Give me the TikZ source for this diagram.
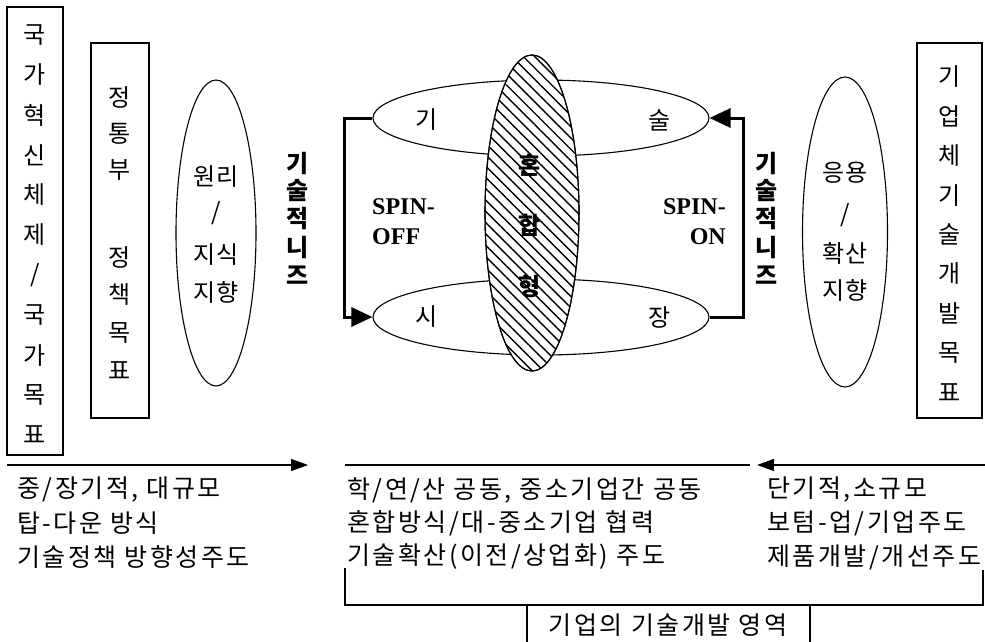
\documentclass[tikz,border=0pt]{standalone}
\usepackage{fontspec}
\setmainfont{Noto Sans CJK KR}[LetterSpace=10]
\newfontfamily\krtight{Noto Sans CJK KR}
\newfontfamily\latinb{Liberation Serif}
\usetikzlibrary{shapes.geometric,patterns.meta,arrows.meta}
\begin{document}
\begin{tikzpicture}[x=1pt,y=-1pt,
  ch/.style={inner sep=0, font=\krtight\fontsize{24}{24}\selectfont},
  chb/.style={inner sep=0, font=\krtight\fontsize{24}{24}\selectfont\bfseries},
  spin/.style={inner sep=0, font=\fontsize{24}{24}\selectfont\latinb\bfseries},
  txt/.style={inner sep=0, anchor=west, font=\fontsize{25}{25}\selectfont},
  vbox/.style={draw, line width=1.5pt, inner sep=0},
  oval/.style={draw, ellipse, line width=1.1pt, inner sep=0},
  loop/.style={line width=3pt, -{Triangle[length=21pt,width=19pt]}},
  flow/.style={line width=1.3pt, -{Triangle[length=17pt,width=12pt]}},
  plain/.style={line width=1.3pt}]
\useasboundingbox (0,0) rectangle (985,642);
\fill[white] (0,0) rectangle (985,642);

% left box 1
\node[vbox, minimum width=56pt, minimum height=448pt] (box1) at (35,231) {};
\foreach \c [count=\i from 0] in {국,가,혁,신,체,제,/,국,가,목,표}
  \node[ch] (b1c\i) at (35,35+40*\i) {\c};

% left box 2
\node[vbox, minimum width=58pt, minimum height=375pt] (box2) at (120,230.5) {};
\foreach \c/\y [count=\i] in {정/97,통/134,부/170,정/257,책/295,목/333,표/371}
  \node[ch] (b2c\i) at (120,\y) {\c};

% left oval
\node[oval, minimum width=80pt, minimum height=306pt] (ovl) at (216,233) {};
\node[ch] (ovl1) at (216,177) {원리};
\node[ch] (ovl2) at (216,213) {/};
\node[ch] (ovl3) at (216,255) {지식};
\node[ch] (ovl4) at (216,292) {지향};

% left 기술적니즈
\foreach \c [count=\i from 0] in {기,술,적,니,즈}
  \node[chb] (nl\i) at (298,163+28*\i) {\c};

% central ellipses
\node[oval, minimum width=336pt, minimum height=76pt] (tech) at (541,118) {};
\node[oval, minimum width=336pt, minimum height=76pt] (mkt) at (541,317) {};
\node[oval, minimum width=94pt, minimum height=316pt, fill=white,
      postaction={pattern={Lines[angle=-45,distance=8pt,line width=1.4pt]}}] (mix) at (532,213) {};
\draw[line width=1.1pt] (mix.center) ellipse [x radius=47pt, y radius=158pt];

\node[ch] (t1) at (427,120) {기};
\node[ch] (t2) at (660,120) {술};
\node[ch] (m1) at (427,317) {시};
\node[ch] (m2) at (660,317) {장};
\node[chb] (x1) at (530,165) {혼};
\node[chb] (x2) at (530,225) {합};
\node[chb] (x3) at (530,286) {형};

\node[spin, anchor=west] (so1) at (372,207) {SPIN-};
\node[spin, anchor=west] (so2) at (372,237) {OFF};
\node[spin, anchor=east] (sn1) at (726,207) {SPIN-};
\node[spin, anchor=east] (sn2) at (726,237) {ON};

\draw[loop] (tech.west) -- ++(-28,0) |- (mkt.west);
\draw[loop] (mkt.east) -- ++(34,0) |- (tech.east);

% right 기술적니즈
\foreach \c [count=\i from 0] in {기,술,적,니,즈}
  \node[chb] (nr\i) at (767,163+28*\i) {\c};

% right oval
\node[oval, minimum width=85pt, minimum height=310pt] (ovr) at (845,232) {};
\node[ch] (ovr1) at (845,173) {응용};
\node[ch] (ovr2) at (845,215) {/};
\node[ch] (ovr3) at (845,253) {확산};
\node[ch] (ovr4) at (845,290) {지향};

% right box
\node[vbox, minimum width=65pt, minimum height=375pt] (box3) at (949.5,230.5) {};
\foreach \c [count=\i from 0] in {기,업,체,기,술,개,발,목,표}
  \node[ch] (b3c\i) at (949.5,77+39.4*\i) {\c};

% bottom flows
\coordinate (fl1) at (7,465);
\coordinate (fl2) at (308,465);
\coordinate (fm1) at (345,465);
\coordinate (fm2) at (750,465);
\coordinate (fr1) at (985,465);
\coordinate (fr2) at (757,465);
\draw[flow] (fl1) -- (fl2);
\draw[plain] (fm1) -- (fm2);
\draw[flow] (fr1) -- (fr2);

\node[txt] (lt1) at (17,490) {중/장기적, 대규모};
\node[txt] (lt2) at (17,523) {탑-다운 방식};
\node[txt] (lt3) at (17,557) {기술정책 방향성주도};
\node[txt] (mt1) at (347,490) {학/연/산 공동, 중소기업간 공동};
\node[txt] (mt2) at (347,523) {혼합방식/대-중소기업 협력};
\node[txt] (mt3) at (347,557) {기술확산(이전/상업화) 주도};
\node[txt] (rt1) at (767,490) {단기적,소규모};
\node[txt] (rt2) at (767,523) {보텀-업/기업주도};
\node[txt] (rt3) at (767,557) {제품개발/개선주도};

% bracket
\coordinate (br1) at (345,568);
\coordinate (br2) at (983,570);
\draw[plain] (br1) |- (983,605) -- (br2);
\coordinate (bl1) at (527,605);
\coordinate (bl2) at (810,605);
\draw[plain] (bl1) -- (527,642);
\draw[plain] (bl2) -- (810,642);
\node[inner sep=0, font=\fontsize{25}{25}\selectfont] (area) at (668,625) {기업의 기술개발 영역};
\end{tikzpicture}
\end{document}
